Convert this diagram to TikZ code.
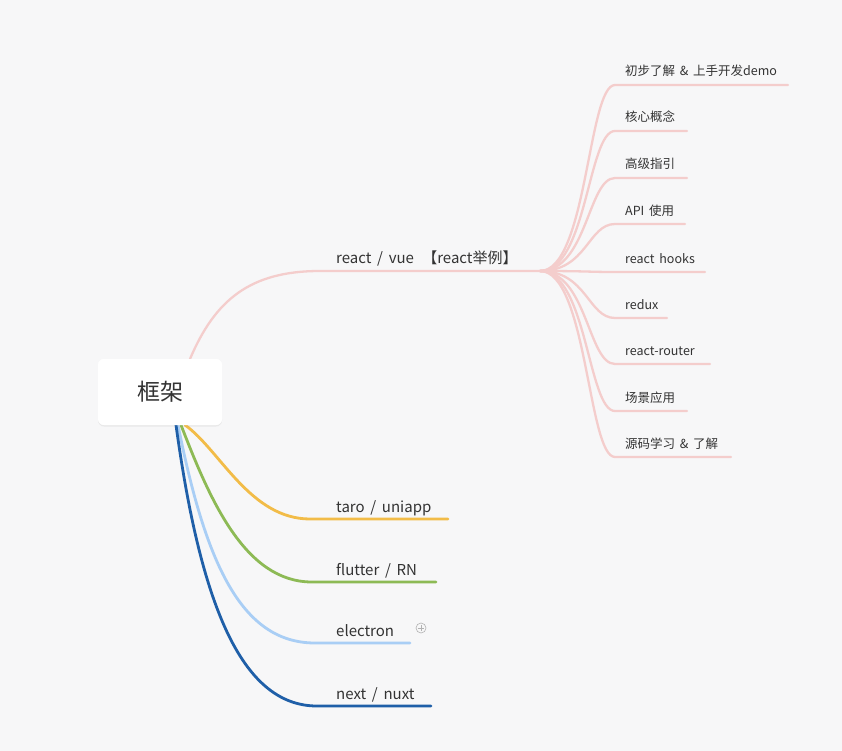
\documentclass[tikz,border=0pt]{standalone}
\usepackage{fontspec}
\setmainfont[WordSpace=1.7]{Noto Sans CJK SC}
\usetikzlibrary{calc,shadows}
\definecolor{bgc}{HTML}{F7F7F8}
\definecolor{pinkc}{HTML}{F4CDCC}
\definecolor{yelc}{HTML}{F2BC48}
\definecolor{grnc}{HTML}{8DBA55}
\definecolor{lbluec}{HTML}{A9CEF5}
\definecolor{dbluec}{HTML}{1F5FA8}
\definecolor{txtc}{HTML}{333333}
\begin{document}
\begin{tikzpicture}[x=1pt,y=-1pt,
  rootbox/.style={fill=white,rounded corners=6pt,minimum width=124pt,minimum height=66pt,inner sep=0pt,
    drop shadow={opacity=0.06,shadow xshift=0pt,shadow yshift=-1.5pt},text=txtc,font=\fontsize{23}{26}\selectfont},
  lvlone/.style={anchor=base west,inner sep=0pt,text=txtc,font=\fontsize{15}{18}\selectfont},
  lvltwo/.style={anchor=base west,inner sep=0pt,text=txtc,font=\fontsize{12.5}{15}\selectfont},
  pinkline/.style={draw=pinkc,line width=2.3pt,line cap=round},
  colline/.style={line width=2.8pt,line cap=round}]
\fill[bgc] (0,0) rectangle (842,751);
\useasboundingbox (0,0) rectangle (842,751);

% root
\node[rootbox] (root) at (160,392) {框架};

% react branch
\coordinate (rs) at (190,359);
\coordinate (rh) at (320,271);
\coordinate (hub) at (540,271);
\draw[pinkline] (rs) .. controls (215,300) and (250,271) .. (rh) -- (hub);
\node[lvlone] (react) at (336,263) {react / vue \,【react举例】};

% children
\foreach \i/\yy/\xe/\lab in {
  1/85/788/{初步了解 \& 上手开发demo},
  2/131/687/{核心概念},
  3/178/687/{高级指引},
  4/224/685/{API 使用},
  5/272/705/{react hooks},
  6/318/667/{redux},
  7/364/710/{react-router},
  8/411/687/{场景应用},
  9/457/731/{源码学习 \& 了解}}{
  \coordinate (c\i s) at (615,\yy);
  \coordinate (c\i e) at (\xe,\yy);
  \draw[pinkline] (hub) .. controls ($(hub)+(47,0)$) and ($(c\i s)+(-27,0)$) .. (c\i s) -- (c\i e);
  \node[lvltwo] (t\i) at (625,\yy-9) {\lab};
}

% lower branches
\coordinate (ys) at (185,425);
\coordinate (ym) at (310,519);
\coordinate (ye) at (448,519);
\draw[colline,draw=yelc] (ys) .. controls (220,450) and (250,519) .. (ym) -- (ye);
\node[lvlone] (taro) at (336,512) {taro / uniapp};

\coordinate (gs) at (181,425);
\coordinate (gm) at (312,582);
\coordinate (ge) at (436,582);
\draw[colline,draw=grnc] (gs) .. controls (210,500) and (245,582) .. (gm) -- (ge);
\node[lvlone] (flutter) at (336,575) {flutter / RN};

\coordinate (ls) at (178,425);
\coordinate (lm) at (315,643);
\coordinate (le) at (410,643);
\draw[colline,draw=lbluec] (ls) .. controls (205,560) and (240,643) .. (lm) -- (le);
\node[lvlone] (electron) at (336,636) {electron};
\node[circle,draw=gray!60,line width=0.6pt,minimum size=10pt,inner sep=0pt] (plus) at (421,628) {};
\draw[gray!60,line width=0.6pt] ($(plus)+(-3.2,0)$) -- ($(plus)+(3.2,0)$);
\draw[gray!60,line width=0.6pt] ($(plus)+(0,-3.2)$) -- ($(plus)+(0,3.2)$);

\coordinate (ds) at (176,425);
\coordinate (dm) at (317,706);
\coordinate (de) at (431,706);
\draw[colline,draw=dbluec] (ds) .. controls (200,600) and (240,706) .. (dm) -- (de);
\node[lvlone] (next) at (336,699) {next / nuxt};

% redraw root on top
\node[rootbox] at (160,392) {框架};
\end{tikzpicture}
\end{document}
